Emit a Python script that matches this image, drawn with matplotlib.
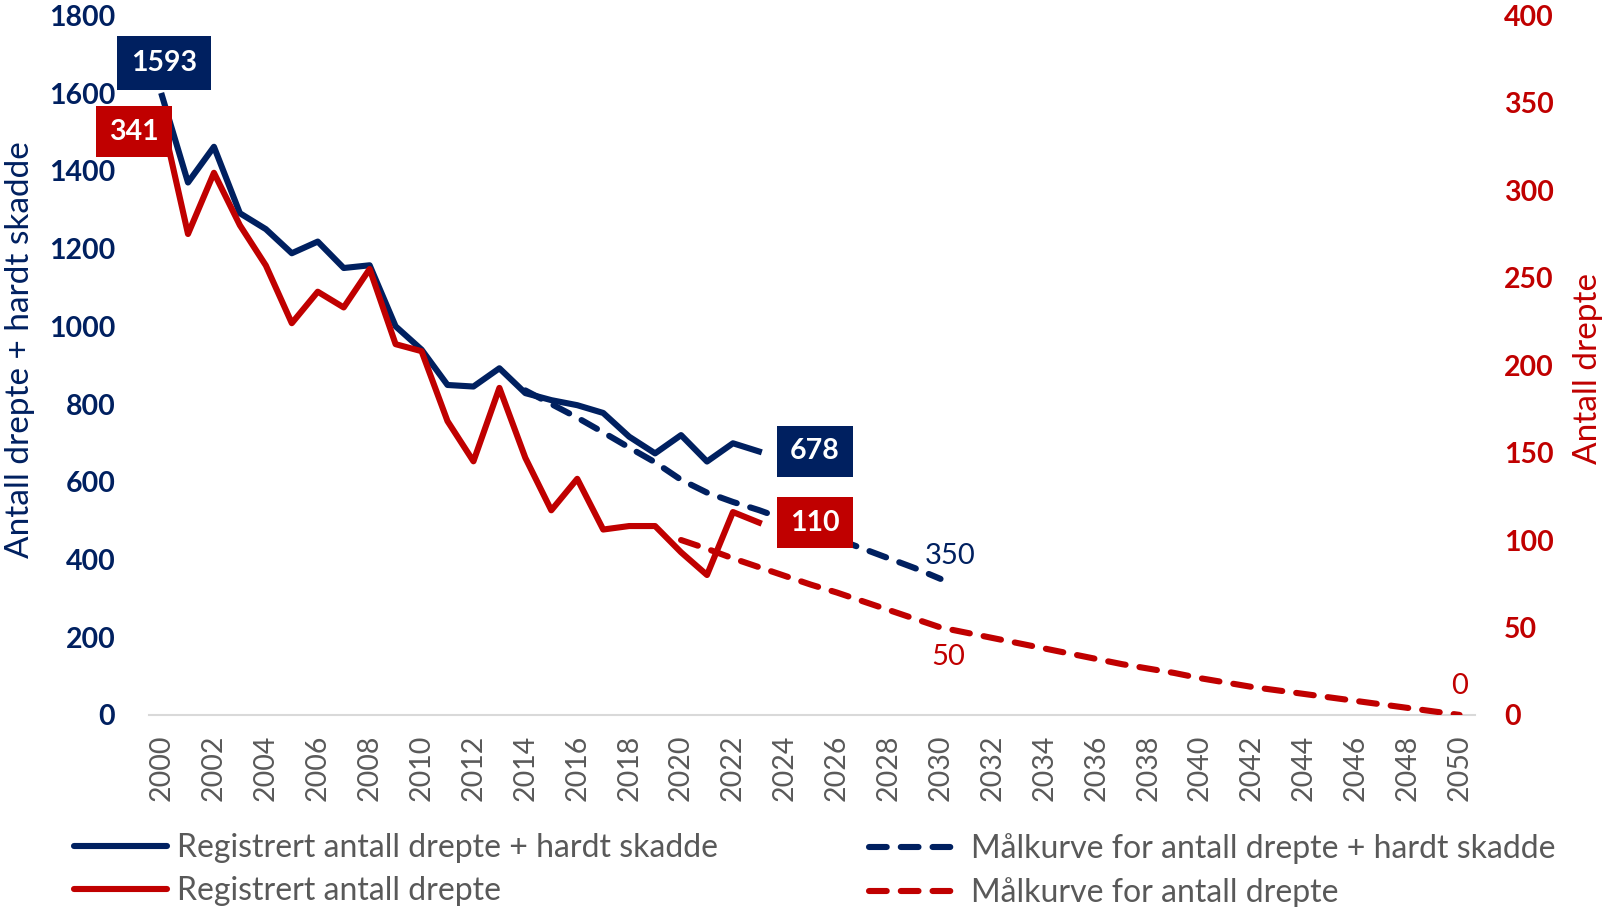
import matplotlib
matplotlib.use('Agg')
import matplotlib.pyplot as plt
from matplotlib.lines import Line2D

NAVY = '#002060'
RED = '#C00000'
GRAY = '#595959'

plt.rcParams['font.family'] = ['Lato', 'DejaVu Sans']

# registered values 2000-2023
years = list(range(2000, 2024))
ksi = [1593, 1370, 1462, 1291, 1250, 1188, 1218, 1150, 1157, 1000, 940, 849, 845, 892,
       828, 810, 797, 777, 716, 673, 720, 652, 699, 678]
killed = [341, 275, 310, 280, 257, 224, 242, 233, 255, 212, 208, 168, 145, 187,
          147, 117, 135, 106, 108, 108, 93, 80, 116, 110]

# target curves
ksi_target_years = list(range(2014, 2031))
ksi_target = [835, 800, 765, 727, 688, 650, 605, 572, 548, 527, 503, 478, 453, 428, 403, 378, 350]
killed_target_years = list(range(2020, 2051))
killed_target = [100, 95, 89.5, 84.5, 79.5, 74.5, 70, 65, 60, 55, 50,
                 47, 44, 41, 38, 35, 32, 29, 26.5, 24, 21, 18.5, 16, 14, 12,
                 10, 8, 6, 4, 2, 0]

x_ticks = list(range(2000, 2051, 2))
left_ticks = list(range(0, 1801, 200))
right_ticks = list(range(0, 401, 50))

LW = 4.4
DASH = (0, (2.9, 2.3))

fig = plt.figure(figsize=(16.06, 9.07), dpi=100)
ax = fig.add_axes([0.0925, 0.2118, 0.8260, 0.7712])
ax2 = ax.twinx()

ax.plot(years, ksi, color=NAVY, lw=LW, solid_joinstyle='round')
ax.plot(ksi_target_years, ksi_target, color=NAVY, lw=LW, linestyle=DASH, dash_capstyle='round')
ax2.plot(years, killed, color=RED, lw=LW, solid_joinstyle='round')
ax2.plot(killed_target_years, killed_target, color=RED, lw=LW, linestyle=DASH, dash_capstyle='round')

ax.set_xlim(1999.48, 2050.6)
ax.set_ylim(0, 1800)
ax2.set_ylim(0, 400)

ax.set_xticks(x_ticks)
ax.set_xticklabels([str(y) for y in x_ticks], rotation=90, fontsize=20.5, color=GRAY)
ax.set_yticks(left_ticks)
ax.set_yticklabels([str(v) for v in left_ticks], fontsize=20.5, color=NAVY, fontweight='bold')
ax2.set_yticks(right_ticks)
ax2.set_yticklabels([str(v) for v in right_ticks], fontsize=20.5, color=RED, fontweight='bold')

ax.tick_params(axis='x', length=0, pad=14)
ax.tick_params(axis='y', length=0, pad=24)
ax2.tick_params(axis='y', length=0, pad=21)

for a in (ax, ax2):
    for s in ('top', 'left', 'right', 'bottom'):
        a.spines[s].set_visible(False)
ax.spines['bottom'].set_visible(True)
ax.spines['bottom'].set_color('#D9D9D9')
ax.spines['bottom'].set_linewidth(1.5)

ax.set_ylabel('Antall drepte + hardt skadde', fontsize=24, color=NAVY)
ax.yaxis.set_label_coords(-0.0855, 0.522)
ax2.set_ylabel('Antall drepte', fontsize=24, color=RED, rotation=90)
ax2.yaxis.set_label_coords(1.0735, 0.495)

box_kw = dict(textcoords='offset pixels', ha='center', va='center',
              fontsize=20.5, fontweight='bold', color='white')
ax.annotate(str(ksi[0]), xy=(years[0], ksi[0]), xytext=(2, 33),
            bbox=dict(boxstyle='square,pad=0.48', fc=NAVY, ec='none'), **box_kw)
ax.annotate(str(ksi[-1]), xy=(years[-1], ksi[-1]), xytext=(56, 0),
            bbox=dict(boxstyle='square,pad=0.45', fc=NAVY, ec='none'), **box_kw)
ax2.annotate(str(killed[0]), xy=(years[0], killed[0]), xytext=(-28, -13),
             bbox=dict(boxstyle='square,pad=0.45', fc=RED, ec='none'), **box_kw)
ax2.annotate(str(killed[-1]), xy=(years[-1], killed[-1]), xytext=(56, 0),
             bbox=dict(boxstyle='square,pad=0.45', fc=RED, ec='none'), **box_kw)

ax.annotate(str(ksi_target[-1]), xy=(ksi_target_years[-1], ksi_target[-1]), xytext=(10, 23),
            textcoords='offset pixels', ha='center', va='center', fontsize=21, color=NAVY)
ax2.annotate(str(killed_target[10]), xy=(killed_target_years[10], killed_target[10]), xytext=(8, -30),
             textcoords='offset pixels', ha='center', va='center', fontsize=21, color=RED)
ax2.annotate(str(killed_target[-1]), xy=(killed_target_years[-1], killed_target[-1]), xytext=(0, 29),
             textcoords='offset pixels', ha='center', va='center', fontsize=21, color=RED)

h_ksi = Line2D([], [], color=NAVY, lw=LW, solid_capstyle='round')
h_killed = Line2D([], [], color=RED, lw=LW, solid_capstyle='round')
h_ksi_t = Line2D([], [], color=NAVY, lw=LW, linestyle=DASH, dash_capstyle='round')
h_killed_t = Line2D([], [], color=RED, lw=LW, linestyle=DASH, dash_capstyle='round')

leg_kw = dict(loc='upper left', frameon=False, fontsize=23, handlelength=2.92,
              handletextpad=0.3, labelspacing=0.42, borderpad=0, borderaxespad=0,
              labelcolor=GRAY)
leg1 = fig.legend([h_ksi, h_killed],
                  ['Registrert antall drepte + hardt skadde', 'Registrert antall drepte'],
                  bbox_to_anchor=(0.0459, 0.0815), **leg_kw)
leg2 = fig.legend([h_ksi_t, h_killed_t],
                  ['Målkurve for antall drepte + hardt skadde', 'Målkurve for antall drepte'],
                  bbox_to_anchor=(0.5408, 0.0815), **leg_kw)

fig.savefig('out.png', dpi=100)
